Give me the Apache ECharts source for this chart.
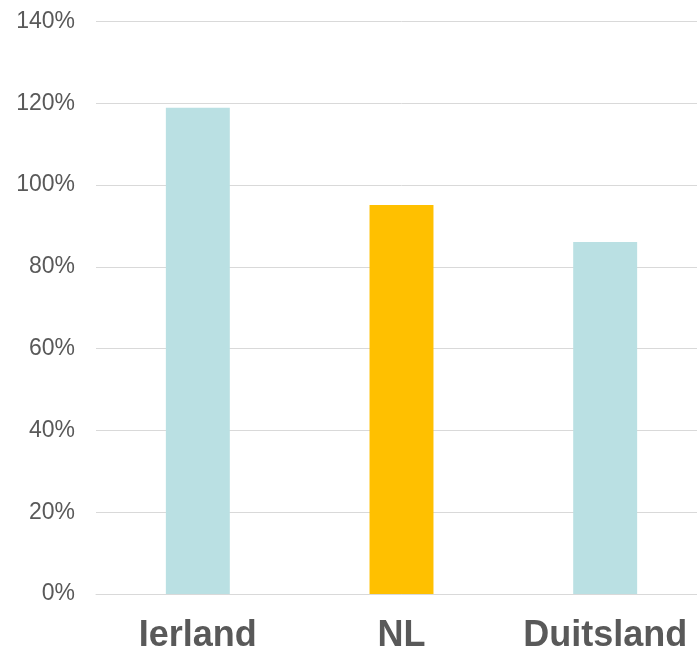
<!DOCTYPE html>
<html>
<head>
<meta charset="utf-8">
<script src="https://cdn.jsdelivr.net/npm/echarts@6/dist/echarts.min.js"></script>
<style>
  html, body { margin: 0; padding: 0; background: #fff; overflow: hidden; }
  /* the plot runs past the right edge in the reference, so the canvas is a bit wider */
  #chart { width: 707px; height: 652px; }
</style>
</head>
<body>
<div id="chart"></div>
<script>
// data
const categories = ["Ierland", "NL", "Duitsland"];
const values = [118.9, 95.1, 86.1];
const barColors = ["#BAE0E3", "#FFC000", "#BAE0E3"];

const myChart = echarts.init(document.getElementById("chart"));
const option = {
  animation: false,
  textStyle: { fontFamily: "Liberation Sans, Arial, sans-serif" },
  grid: { left: 96, right: 0, top: 21.5, bottom: 58, containLabel: false, outerBoundsMode: "none" },
  xAxis: {
    type: "category",
    data: categories,
    axisTick: { show: false },
    axisLine: { lineStyle: { color: "#d9d9d9", width: 1 } },
    axisLabel: {
      interval: 0,
      color: "#595959",
      fontSize: 36,
      fontWeight: "bold",
      margin: 24,
      fontFamily: "Liberation Sans, Arial, sans-serif"
    }
  },
  yAxis: {
    type: "value",
    min: 0,
    max: 140,
    interval: 20,
    axisLine: { show: false },
    axisTick: { show: false },
    splitLine: { lineStyle: { color: "#d9d9d9", width: 1 } },
    axisLabel: {
      color: "#595959",
      fontSize: 23,
      margin: 21,
      formatter: "{value}%",
      fontFamily: "Liberation Sans, Arial, sans-serif"
    }
  },
  series: [
    {
      type: "bar",
      barWidth: "31.4%",
      data: values.map((v, i) => ({ value: v, itemStyle: { color: barColors[i] } }))
    }
  ]
};
myChart.setOption(option);
</script>
</body>
</html>
